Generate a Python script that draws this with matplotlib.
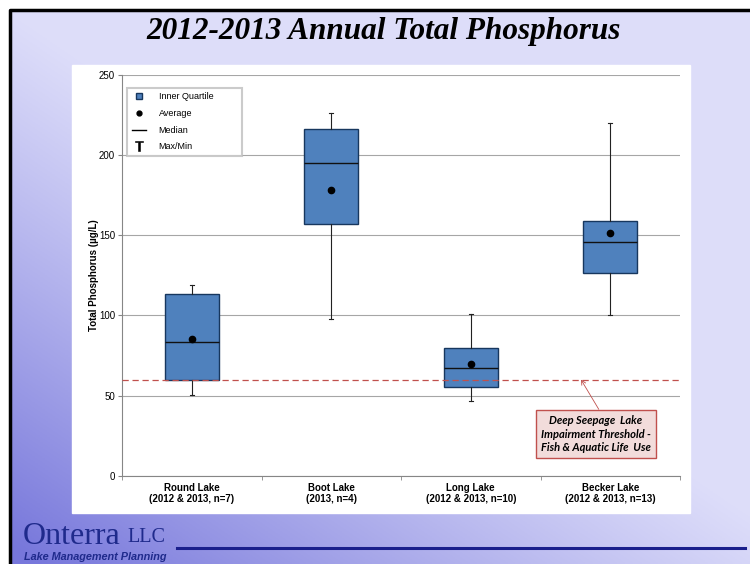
import matplotlib
matplotlib.use("Agg")
import matplotlib.pyplot as plt
from matplotlib.lines import Line2D
from matplotlib.patches import Rectangle
import numpy as np

lakes = ["Round Lake\n(2012 & 2013, n=7)", "Boot Lake\n(2013, n=4)",
         "Long Lake\n(2012 & 2013, n=10)", "Becker Lake\n(2012 & 2013, n=13)"]
tp_min = [50.3, 97.6, 46.8, 100.0]
tp_q1 = [59.7, 157.0, 55.1, 126.3]
tp_med = [83.4, 195.0, 67.0, 146.0]
tp_mean = [85.3, 178.0, 69.9, 151.6]
tp_q3 = [113.2, 216.0, 79.7, 159.0]
tp_max = [119.0, 226.0, 100.7, 219.8]
threshold = 60

fig = plt.figure(figsize=(7.5, 5.64), dpi=100)

# slide background gradient
bg = fig.add_axes([0, 0, 1, 1], zorder=-10)
bg.set_axis_off()
u, v = np.meshgrid(np.linspace(0, 1, 300), np.linspace(0, 1, 240))
d = np.clip(v * 1.05 - u * 0.95, 0, 1) ** 1.1
light = np.array([0.87, 0.87, 0.98])
dark = np.array([0.47, 0.47, 0.86])
img = light[None, None, :] * (1 - d[..., None]) + dark[None, None, :] * d[..., None]
bg.imshow(img, extent=[0, 1, 0, 1], aspect="auto", origin="upper")
bg.set_xlim(0, 1)
bg.set_ylim(0, 1)
# white margin and black frame at top/left
bg.add_patch(Rectangle((0, 1 - 8 / 564), 1, 8 / 564, color="white", zorder=2))
bg.add_patch(Rectangle((0, 0), 8 / 750, 1, color="white", zorder=2))
bg.plot([9.5 / 750, 9.5 / 750, 1], [0, 1 - 9.5 / 564, 1 - 9.5 / 564], color="black", lw=2.5, zorder=3,
        solid_capstyle="butt")
# white chart panel
bg.add_patch(Rectangle((72 / 750, 1 - 513 / 564), 618 / 750, 448 / 564, color="white", zorder=2))

fig.text(0.511, 1 - 31 / 564, "2012-2013 Annual Total Phosphorus", ha="center", va="center",
         fontsize=22.5, fontweight="bold", fontstyle="italic", family="Liberation Serif")

ax = fig.add_axes([122 / 750, 1 - 475.7 / 564, 558 / 750, 400.7 / 564])
ax.set_facecolor("none")

stats = []
for i in range(len(lakes)):
    stats.append(dict(whislo=tp_min[i], q1=tp_q1[i], med=tp_med[i], q3=tp_q3[i],
                      whishi=tp_max[i], mean=tp_mean[i], fliers=[]))
pos = np.arange(1, len(lakes) + 1)
ax.bxp(stats, positions=pos, widths=0.39, showmeans=True, patch_artist=True, capwidths=0.03,
       boxprops=dict(facecolor="#4F81BD", edgecolor="#17375E", lw=1.0),
       medianprops=dict(color="#111111", lw=1.0),
       whiskerprops=dict(color="#222222", lw=0.8),
       capprops=dict(color="#222222", lw=0.8),
       meanprops=dict(marker="o", markerfacecolor="black", markeredgecolor="black", markersize=4.5),
       zorder=3)

ax.axhline(threshold, color="#C0504D", lw=0.9, ls=(0, (5, 3)), zorder=4)

ax.set_xlim(0.5, len(lakes) + 0.5)
ax.set_ylim(0, 250)
ax.set_yticks([0, 50, 100, 150, 200, 250])
ax.yaxis.grid(True, color="#A6A6A6", lw=0.8)
ax.set_axisbelow(True)
ax.set_xticks(pos)
ax.set_xticklabels(lakes, fontsize=7, fontweight="bold", family="Liberation Sans")
ax.set_xticks(np.arange(0.5, len(lakes) + 1, 1), minor=True)
ax.tick_params(axis="x", which="major", length=0, pad=5)
ax.tick_params(axis="x", which="minor", length=3, color="#868686")
ax.tick_params(axis="y", length=3, color="#868686", labelsize=7, pad=2)
for lab in ax.get_yticklabels():
    lab.set_family("Liberation Sans")
for s in ["top", "right"]:
    ax.spines[s].set_visible(False)
ax.spines["left"].set_color("#868686")
ax.spines["bottom"].set_color("#868686")
ax.set_ylabel("Total Phosphorus (\u00b5g/L)", fontsize=7, fontweight="bold", family="Liberation Sans",
              labelpad=0)

handles = [
    Line2D([], [], ls="none", marker="s", markersize=5, markerfacecolor="#4F81BD", markeredgecolor="#17375E"),
    Line2D([], [], ls="none", marker="o", markersize=3.5, color="black"),
    Line2D([], [], color="black", lw=1.0),
    Line2D([], [], ls="none", marker="$\\mathsf{T}$", markersize=7, color="black", markeredgewidth=0.4),
]
leg = ax.legend(handles, ["Inner Quartile", "Average", "Median", "Max/Min"], loc="upper left",
                bbox_to_anchor=(0.009, 0.968, 0.206, 0), mode="expand", borderaxespad=0,
                frameon=True, fancybox=False,
                prop=dict(family="Liberation Sans", size=6.5), handlelength=1.6, labelspacing=0.85,
                borderpad=0.5, handletextpad=1.4)
leg.get_frame().set_edgecolor("#BFBFBF")
leg.get_frame().set_linewidth(1.5)

ax.annotate("Deep Seepage  Lake\nImpairment Threshold -\nFish & Aquatic Life  Use",
            xy=(3.79, threshold), xytext=(3.898, 26), ha="center", va="center",
            fontsize=8, fontweight="bold", fontstyle="italic", family="Lato", linespacing=1.3,
            bbox=dict(boxstyle="square,pad=0.45", facecolor="#F2DCDB", edgecolor="#C0504D", lw=1.0),
            arrowprops=dict(arrowstyle="->", color="#C0504D", lw=0.6, shrinkA=0, shrinkB=0,
                            relpos=(0.555, 1.0)),
            zorder=6)

# logo and footer line
fig.text(23 / 750, 1 - 537 / 564, "Onterra", fontsize=23, family="Liberation Serif",
         color="#1F2A8C", va="center", ha="left")
fig.text(127 / 750, 1 - 538 / 564, "LLC", fontsize=14.5, family="Liberation Serif",
         color="#1F2A8C", va="center", ha="left")
fig.text(24 / 750, 1 - 557 / 564, "Lake Management Planning", fontsize=7.8, fontweight="bold",
         fontstyle="italic", family="Liberation Sans", color="#1F2A8C", va="center", ha="left")
bg.plot([177 / 750, 745 / 750], [1 - 548 / 564, 1 - 548 / 564], color="#1A1F8C", lw=2.2, zorder=3)

fig.savefig("out.png", dpi=100)
